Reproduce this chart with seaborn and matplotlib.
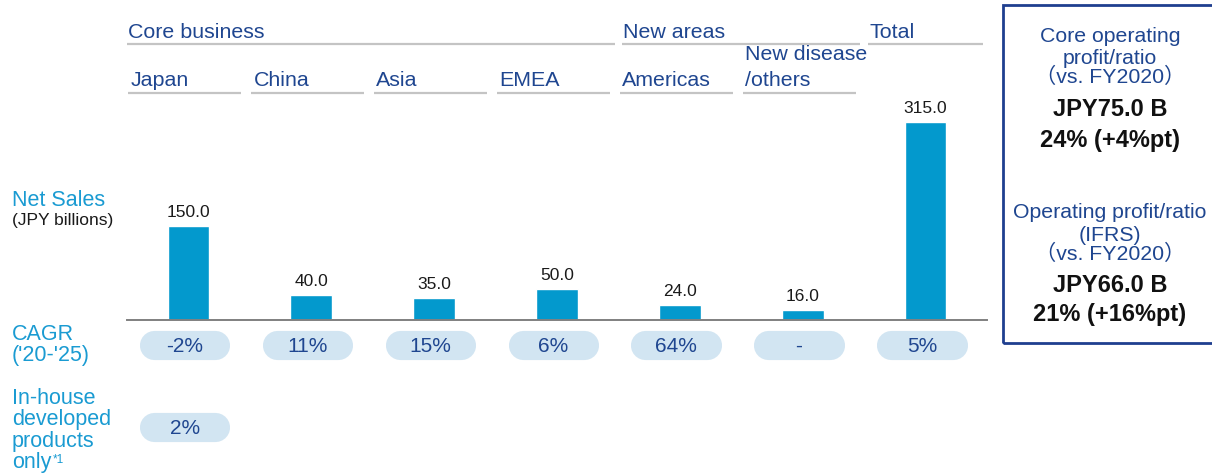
import matplotlib
matplotlib.use("Agg")
import matplotlib.pyplot as plt
import seaborn as sns
import pandas as pd
from matplotlib.transforms import blended_transform_factory
from matplotlib.patches import Rectangle

# ---------------- data ----------------
categories = ["Japan", "China", "Asia", "EMEA", "Americas", "New disease\n/others", "Total"]
net_sales = [150.0, 40.0, 35.0, 50.0, 24.0, 16.0, 315.0]
cagr = ["-2%", "11%", "15%", "6%", "64%", "-", "5%"]
inhouse = ["2%", None, None, None, None, None, None]
group_names = ["Core business", "New areas", "Total"]
group_first = [0, 4, 6]
group_last = [3, 5, 6]
box1_title = ["Core operating", "profit/ratio", "（vs. FY2020）"]
box1_values = ["JPY75.0 B", "24% (+4%pt)"]
box2_title = ["Operating profit/ratio", "(IFRS)", "（vs. FY2020）"]
box2_values = ["JPY66.0 B", "21% (+16%pt)"]

# ---------------- style ----------------
sns.set_theme(style="white")
plt.rcParams["font.family"] = ["Liberation Sans", "Noto Sans CJK JP", "DejaVu Sans"]

BAR = "#0399CD"
TEAL = "#1A9BD2"
NAVY = "#1F4690"
GRAY = "#C4C4C4"
PILL = "#D2E5F2"

W, H = 1212, 473
fig = plt.figure(figsize=(W / 100, H / 100), dpi=100)


def fx(x):
    return x / W


def fy(y):
    return 1 - y / H


ax = fig.add_axes([fx(127), fy(320), fx(987) - fx(127), (320 - 122) / H])
df = pd.DataFrame({"region": categories, "sales": net_sales})
sns.barplot(data=df, x="region", y="sales", color=BAR, saturation=1,
            width=0.34, ax=ax, order=categories)
ax.set_xlim(-0.5, 6.5)
ax.set_ylim(0, 315)
for s in ["top", "right", "left"]:
    ax.spines[s].set_visible(False)
ax.spines["bottom"].set_color("#808080")
ax.spines["bottom"].set_linewidth(1.4)
ax.set_xticks([])
ax.set_yticks([])
ax.set_xlabel("")
ax.set_ylabel("")
ax.patch.set_alpha(0)

ax.bar_label(ax.containers[0], fmt="%.1f", padding=4, fontsize=12.5, color="#1A1A1A")

tr = blended_transform_factory(ax.transData, fig.transFigure)

# group headers
for name, a, b in zip(group_names, group_first, group_last):
    x0 = a - 0.5 if a == 0 else a - 0.47
    x1 = b + 0.47
    ax.plot([x0, x1], [fy(44), fy(44)], transform=tr, color=GRAY, lw=1.6,
            clip_on=False, solid_capstyle="butt")
    ax.text(x0 + 0.01, fy(32), name, transform=tr, fontsize=15.4, color=NAVY,
            ha="left", va="center")

# sub headers
for i, cat in enumerate(categories):
    if cat == "Total":
        continue
    x0 = i - 0.49
    x1 = i + 0.43
    ax.plot([x0, x1], [fy(93), fy(93)], transform=tr, color=GRAY, lw=1.6,
            clip_on=False, solid_capstyle="butt")
    lines = cat.split("\n")
    tx = i - 0.47
    if len(lines) == 1:
        ax.text(tx, fy(80), lines[0], transform=tr, fontsize=15.4,
                color=NAVY, ha="left", va="center")
    else:
        ax.text(tx, fy(55), lines[0], transform=tr, fontsize=15.4,
                color=NAVY, ha="left", va="center")
        ax.text(tx, fy(80), lines[1], transform=tr, fontsize=15.4,
                color=NAVY, ha="left", va="center")

# pills
for i, lab in enumerate(cagr):
    ax.plot([i - 0.28, i + 0.22], [fy(345), fy(345)], transform=tr, color=PILL,
            lw=21, solid_capstyle="round", clip_on=False)
    ax.text(i - 0.03, fy(346), lab, transform=tr, fontsize=15, color=NAVY,
            ha="center", va="center")
for i, lab in enumerate(inhouse):
    if lab is None:
        continue
    ax.plot([i - 0.28, i + 0.22], [fy(427), fy(427)], transform=tr, color=PILL,
            lw=21, solid_capstyle="round", clip_on=False)
    ax.text(i - 0.03, fy(428), lab, transform=tr, fontsize=15, color=NAVY,
            ha="center", va="center")

# left labels
fig.text(fx(12), fy(201), "Net Sales", fontsize=15.5, color=TEAL, ha="left", va="center")
fig.text(fx(12), fy(221), "(JPY billions)", fontsize=12.5, color="#1A1A1A", ha="left", va="center")
fig.text(fx(12), fy(334), "CAGR", fontsize=15.5, color=TEAL, ha="left", va="center")
fig.text(fx(12), fy(356), "('20-'25)", fontsize=15.5, color=TEAL, ha="left", va="center")
for yy, t in zip([398, 419, 441, 462], ["In-house", "developed", "products", "only"]):
    fig.text(fx(12), fy(yy), t, fontsize=15.5, color=TEAL, ha="left", va="center")
fig.text(fx(53), fy(454), "*1", fontsize=8.5, color=TEAL, ha="left", va="top")

# right box
fig.patches.append(Rectangle((fx(1003), fy(343)), fx(1225) - fx(1003), fy(5) - fy(343),
                             transform=fig.transFigure, fill=False,
                             edgecolor="#1F3F8F", lw=2.0))
cx = fx(1110)
for yy, t in zip([37, 58, 77], box1_title):
    fig.text(cx, fy(yy), t, fontsize=15.3, color=NAVY, ha="center", va="center")
for yy, t in zip([110, 140], box1_values):
    fig.text(cx, fy(yy), t, fontsize=17, color="#111111", ha="center", va="center",
             fontweight="bold")
for yy, t in zip([213, 235, 254], box2_title):
    fig.text(cx, fy(yy), t, fontsize=15.3, color=NAVY, ha="center", va="center")
for yy, t in zip([285, 314], box2_values):
    fig.text(cx, fy(yy), t, fontsize=17, color="#111111", ha="center", va="center",
             fontweight="bold")

fig.savefig("out.png", dpi=100)
